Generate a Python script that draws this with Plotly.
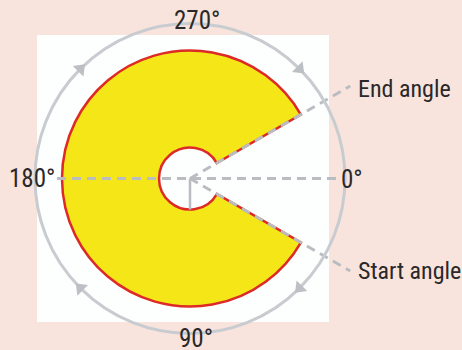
import numpy as np
import plotly.graph_objects as go

# ---- data ----
start_angle = 30          # degrees, clockwise from 0° (east)
end_angle = 330
inner_radius = 31
outer_radius = 128
frame_radius = 155
pointer_length = 185

axis_labels = ["0°", "90°", "180°", "270°"]
pointer_labels = ["Start angle", "End angle"]
arrow_angles = [45, 135, 225, 315]

# ---- styles ----
PEACH = "#f8e4dc"
YELLOW = "#f4e617"
RED = "#dd2a26"
CIRCLE = "#c8ccd0"
DASH = "#b9bdc1"
TEXT = "#2a282a"
FONT = "Liberation Sans Narrow, Roboto Condensed, Arial Narrow, sans-serif"
DASHSTYLE = "9px,6px"

W, H = 462, 350
cx, cy = 190, 178.5          # pixel centre of the polar frame
split = 150                  # radius where pointer lines hand over to the overlay

fig = go.Figure()

fig.add_trace(go.Barpolar(
    r=[outer_radius - inner_radius], base=[inner_radius],
    theta=[(start_angle + end_angle) / 2], width=[end_angle - start_angle],
    marker=dict(color=YELLOW, line=dict(color=RED, width=2.5)),
    hoverinfo="skip", showlegend=False,
))

# horizontal dashed reference line (180° -> 0°)
fig.add_trace(go.Scatterpolar(
    r=[133, 0, 151], theta=[180, 0, 0], mode="lines",
    line=dict(color=DASH, width=3, dash=DASHSTYLE),
    hoverinfo="skip", showlegend=False,
))

# start / end pointer lines (inner part, on top of the sector edges)
fig.add_trace(go.Scatterpolar(
    r=[0, split, None, 0, split],
    theta=[end_angle, end_angle, None, start_angle, start_angle], mode="lines",
    line=dict(color=DASH, width=3, dash=DASHSTYLE),
    hoverinfo="skip", showlegend=False,
))

# solid short line toward 90°
fig.add_trace(go.Scatterpolar(
    r=[0, inner_radius], theta=[90, 90], mode="lines",
    line=dict(color=DASH, width=2.5),
    hoverinfo="skip", showlegend=False,
))

# direction arrows on frame circle
fig.add_trace(go.Scatterpolar(
    r=[frame_radius] * len(arrow_angles), theta=arrow_angles, mode="markers",
    marker=dict(symbol="triangle-up", size=13, color="#bcc0c4",
                angle=[a + 180 for a in arrow_angles], line=dict(width=0)),
    cliponaxis=False, hoverinfo="skip", showlegend=False,
))

# outer part of the pointer lines, on a pixel-scaled overlay axis
px_, py_ = [], []
for ang in (end_angle, start_angle):
    t = np.deg2rad(ang)
    px_ += [split * np.cos(t), pointer_length * np.cos(t), None]
    py_ += [-split * np.sin(t), -pointer_length * np.sin(t), None]
fig.add_trace(go.Scatter(
    x=px_, y=py_, mode="lines", line=dict(color=DASH, width=3, dash=DASHSTYLE),
    cliponaxis=False, hoverinfo="skip", showlegend=False,
))

R = frame_radius
fig.update_layout(
    width=W, height=H,
    margin=dict(l=0, r=0, t=0, b=0),
    paper_bgcolor=PEACH,
    plot_bgcolor="rgba(0,0,0,0)",
    showlegend=False,
    xaxis=dict(range=[-cx, W - cx], visible=False, domain=[0, 1], fixedrange=True),
    yaxis=dict(range=[-(H - cy), cy], visible=False, domain=[0, 1], fixedrange=True),
    polar=dict(
        domain=dict(x=[(cx - R) / W, (cx + R) / W], y=[1 - (cy + R) / H, 1 - (cy - R) / H]),
        bgcolor="rgba(0,0,0,0)",
        radialaxis=dict(range=[0, frame_radius], visible=False),
        angularaxis=dict(rotation=0, direction="clockwise", showgrid=False,
                         showticklabels=False, ticks="", showline=True,
                         linecolor=CIRCLE, linewidth=3, layer="below traces"),
    ),
    shapes=[dict(type="rect", xref="paper", yref="paper",
                 x0=37 / W, x1=329 / W, y0=1 - 322 / H, y1=1 - 35 / H,
                 fillcolor="#fdfefe", line=dict(width=0), layer="below")],
)

label_pos = [(352, 179), (196, 338), (32, 178), (197, 20)]
for txt, (x, y) in zip(axis_labels, label_pos):
    fig.add_annotation(text=txt, x=x / W, y=1 - y / H, xref="paper", yref="paper",
                       xanchor="center", yanchor="middle", showarrow=False,
                       font=dict(family=FONT, size=25, color=TEXT))

pointer_pos = [(356, 271), (356, 89)]
for txt, (x, y) in zip(pointer_labels, pointer_pos):
    fig.add_annotation(text=txt, x=x / W, y=1 - y / H, xref="paper", yref="paper",
                       xanchor="left", yanchor="middle", showarrow=False,
                       font=dict(family=FONT, size=24, color=TEXT))

fig.write_html("out.html", config={"displayModeBar": False},
               post_script="document.body.style.margin='0';")
